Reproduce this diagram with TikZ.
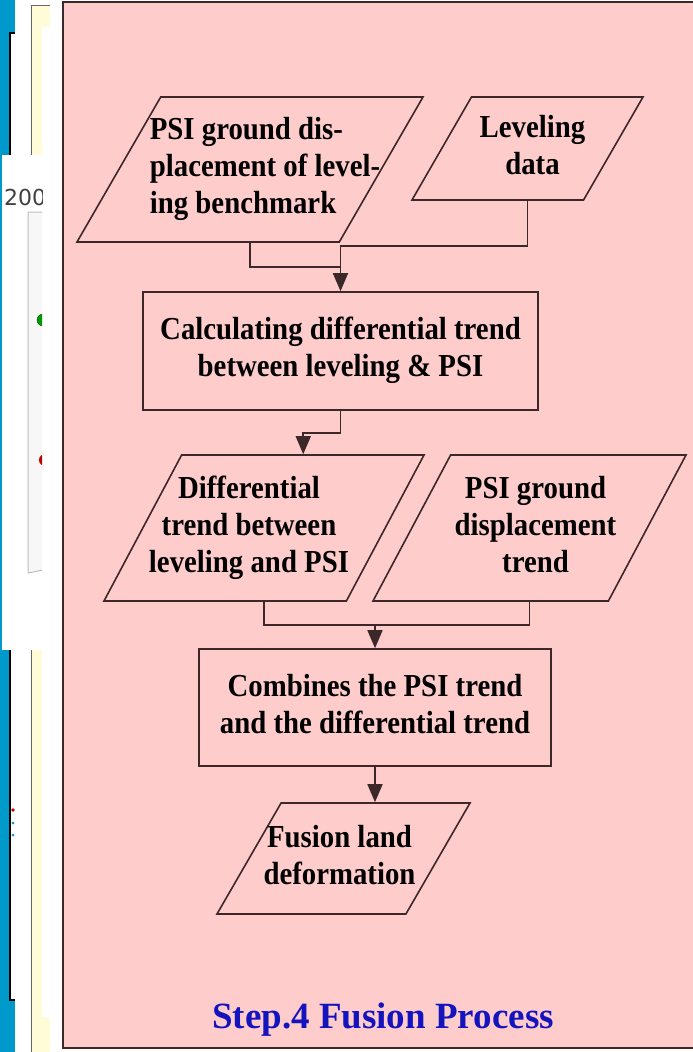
\documentclass[tikz,border=0pt]{standalone}
\usepackage{fontspec}
\setmainfont{Liberation Serif}
\setsansfont{DejaVu Sans}
\newfontfamily\boxfont[FakeStretch=0.9]{Liberation Serif}
\usetikzlibrary{shapes.geometric, arrows.meta, positioning}

\definecolor{slidepink}{RGB}{255,204,204}
\definecolor{edge}{RGB}{60,40,40}
\definecolor{titleblue}{RGB}{20,20,190}
\definecolor{winblue}{RGB}{0,153,204}
\definecolor{paleyellow}{RGB}{255,252,215}

\tikzset{
    stepbox/.style={rectangle, draw=edge, line width=1.6pt, fill=slidepink, inner sep=0pt},
    databox/.style={trapezium, trapezium left angle=60, trapezium right angle=120,
        trapezium stretches body, draw=edge, line width=1.6pt, fill=slidepink, inner xsep=0pt},
    boxtext/.style={font=\boxfont\bfseries\fontsize{32}{37}\selectfont},
    link/.style={draw=edge, line width=1.6pt},
    arrow/.style={link, -{Triangle[length=18pt, width=15pt]}}
}
% lines of a box, shifted sideways by half of #1
\newcommand{\rows}[3][0pt]{\makebox[0pt]{\hspace*{#1}\begin{tabular}{@{}#2@{}}#3\end{tabular}}}

\begin{document}
\begin{tikzpicture}[x=1pt, y=-1pt]
    \useasboundingbox (0,0) rectangle (693,1052);
    \fill[white] (0,0) rectangle (693,1052);

    % windows along the left edge
    \fill[winblue] (0,0) rectangle (15,1052);
    \fill[white] (11,33) rectangle (15,1000);
    \draw[black, line width=1.6pt] (15,33) -- (10,33) -- (10,1000) -- (15,1000);
    \fill[paleyellow] (31,5) rectangle (50,1052);
    \fill[white] (42,27) rectangle (50,1017);
    \draw[black!60, line width=1pt] (50,5) -- (31,5) -- (31,1052);
    \fill[white] (0,155) rectangle (42,650);
    \fill[winblue] (0,155) rectangle (1.5,650);
    \begin{scope}
        \clip (0,155) rectangle (42,650);
        \node[font=\sffamily\fontsize{22}{22}\selectfont, text=black!75, anchor=west, inner sep=0pt] (year) at (4,197) {200};
        \fill[black!3] (28,212) -- (43,212) -- (43,570) -- (28,573) -- cycle;
        \draw[black!25, line width=1pt] (43,212) -- (28,212) -- (28,573) -- (43,570);
        \filldraw[fill=green!60!black, draw=green!30!black] (43,320) circle (6pt);
        \fill[red!75!black] (45,460) circle (6pt);
    \end{scope}
    \fill[red!80!black] (13,810) circle (1.8pt);
    \fill[winblue] (13,823) circle (1.5pt);
    \fill[winblue] (13,835) circle (1.5pt);

    % slide background
    \draw[edge, line width=1.4pt, fill=slidepink] (63,2) rectangle (720,1048);

    % flow chart (inner ysep sets the slant of the data boxes)
    \node[databox, boxtext, inner ysep=17pt, minimum width=346pt] (ground) at (250,169.5)
        {\rows[30pt]{l}{PSI ground dis-\\placement of level-\\ing benchmark}};
    \node[databox, boxtext, inner ysep=14.5pt, minimum width=231pt] (level) at (527.5,148.5)
        {\rows[10pt]{c}{Leveling\\data}};
    \node[stepbox, boxtext, minimum width=395pt, minimum height=118pt] (calc) at (340.5,351)
        {\rows{c}{Calculating differential trend\\between leveling \& PSI}};
    \node[databox, boxtext, trapezium left angle=62, trapezium right angle=118,
        inner ysep=17.5pt, minimum width=320pt] (diff) at (264,528)
        {\rows[-30pt]{c}{Differential\\trend between\\leveling and PSI}};
    \node[databox, boxtext, trapezium left angle=62, trapezium right angle=118,
        inner ysep=17.5pt, minimum width=313pt] (trend) at (529.5,528)
        {\rows[12pt]{c}{PSI ground\\displacement\\trend}};
    \node[stepbox, boxtext, minimum width=352pt, minimum height=117pt] (comb) at (375,707.5)
        {\rows{c}{Combines the PSI trend\\and the differential trend}};
    \node[databox, boxtext, inner ysep=18.5pt, minimum width=253pt] (fusion) at (343.5,858.5)
        {\rows[-8pt]{c}{Fusion land\\deformation}};

    \draw[link] (ground.south) |- ([yshift=24pt]calc.north);
    \draw[arrow] (level.south) |- ([yshift=45pt]calc.north) -- (calc.north);
    \draw[arrow] (calc.south) -- ++(0,22) -| (diff.top side);
    \draw[link] (diff.south) |- ([yshift=23pt]comb.north);
    \draw[arrow] (trend.south) |- ([yshift=23pt]comb.north) -- (comb.north);
    \draw[arrow] (comb.south) -- (comb.south |- fusion.north);

    \node[font=\bfseries\fontsize{37}{40}\selectfont, text=titleblue] (title) at (383,1020) {Step.4 Fusion Process};
\end{tikzpicture}
\end{document}
